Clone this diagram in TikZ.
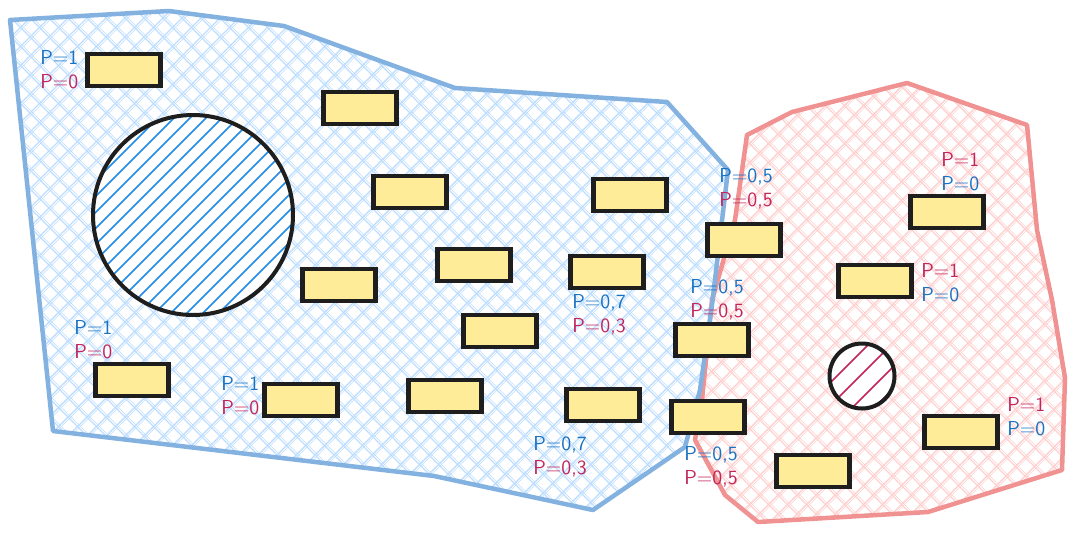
\documentclass[tikz,border=0pt]{standalone}
\usepackage{tikz,xcolor}
\definecolor{zoneblue}{RGB}{132,178,224}
\definecolor{hatchblue}{RGB}{190,222,255}
\definecolor{zonered}{RGB}{240,146,146}
\definecolor{hatchred}{RGB}{255,208,208}
\definecolor{discblue}{RGB}{34,139,230}
\definecolor{cardyellow}{RGB}{255,236,153}
\definecolor{ink}{RGB}{30,30,30}
\definecolor{pblue}{RGB}{25,113,194}
\definecolor{pred}{RGB}{194,37,92}
\tikzset{
	blue zone/.style={insert path={(10,20) -- (169,11) -- (284,26) -- (455,88) -- (667,102) -- (728,170) -- (712,305) -- (700,390) -- (685,447) -- (593,510) -- (434,476) -- (53,431) -- cycle}},
	red zone/.style={insert path={(747,135) -- (792,112) -- (907,83) -- (1027,125) -- (1037,230) -- (1052,300) -- (1065,378) -- (1062,470) -- (928,512) -- (758,522) -- (725,495) -- (695,440) -- (702,400) -- (712,300) -- (735,220) -- cycle}},
	card/.style={draw=ink, line width=0.9mm, fill=cardyellow, minimum width=14.6mm, minimum height=6.4mm, inner sep=0pt},
	prob/.style={anchor=west, align=left, inner sep=0pt, font=\sffamily\fontsize{11.5}{13.5}\selectfont}
	}

\begin{document}
\begin{tikzpicture}[x=0.2mm, y=-0.2mm, font=\sffamily]
	\useasboundingbox (0,0) rectangle (1077,543);

	% red zone, cross hatched
	\begin{scope}
		\clip [red zone];
		\foreach \k in {760,779,...,1620} {
			\draw[hatchred, line width=0.28mm] (\k,0) -- ++(-600,600);
			\draw[hatchred, line width=0.12mm] (\k+3,0) -- ++(-600,600);
		}
		\foreach \k in {150,169,...,1010} {
			\draw[hatchred, line width=0.28mm] (\k,0) -- ++(600,600);
			\draw[hatchred, line width=0.12mm] (\k+3,0) -- ++(600,600);
		}
	\end{scope}

	% blue zone, cross hatched
	\begin{scope}
		\clip [blue zone];
		\foreach \k in {10,29,...,1260} {
			\draw[hatchblue, line width=0.28mm] (\k,0) -- ++(-600,600);
			\draw[hatchblue, line width=0.12mm] (\k+3,0) -- ++(-600,600);
		}
		\foreach \k in {-520,-501,...,740} {
			\draw[hatchblue, line width=0.28mm] (\k,0) -- ++(600,600);
			\draw[hatchblue, line width=0.12mm] (\k+3,0) -- ++(600,600);
		}
	\end{scope}

	% zone borders
	\draw[zonered, line width=0.9mm, line join=round] [red zone];
	\draw[zoneblue, line width=0.9mm, line join=round] [blue zone];

	% big disc
	\fill[white] (193,215) circle (100);
	\begin{scope}
		\clip (193,215) circle (100);
		\foreach \k in {100,116,...,620} {
			\draw[discblue, line width=0.3mm] (\k,0) -- ++(-600,600);
		}
	\end{scope}
	\draw[ink, line width=0.8mm] (193,215) circle (100);

	% small disc
	\fill[white] (862,376) circle (32.5);
	\begin{scope}
		\clip (862,376) circle (32.5);
		\foreach \k in {1213,1236,1260,1282} {
			\draw[pred, line width=0.3mm] (\k,0) -- ++(-600,600);
		}
	\end{scope}
	\draw[ink, line width=0.8mm] (862,376) circle (32.5);

	% cards
	\node[card] (card1) at (124,70) {};
	\node[card] (card2) at (360,108) {};
	\node[card] (card3) at (410,192) {};
	\node[card] (card4) at (630,195) {};
	\node[card] (card5) at (744,240) {};
	\node[card] (card6) at (947,212) {};
	\node[card] (card7) at (474,265) {};
	\node[card] (card8) at (339,285) {};
	\node[card] (card9) at (607,272) {};
	\node[card] (card10) at (875,281) {};
	\node[card] (card11) at (500,331) {};
	\node[card] (card12) at (712,340) {};
	\node[card] (card13) at (132,380) {};
	\node[card] (card14) at (301,400) {};
	\node[card] (card15) at (445,396) {};
	\node[card] (card16) at (603,405) {};
	\node[card] (card17) at (708,417) {};
	\node[card] (card18) at (813,471) {};
	\node[card] (card19) at (961,432) {};

	% probabilities
	\node[prob] (prob1) at (40,70) {\color{pblue}P=1\\\color{pred}P=0};
	\node[prob] (prob2) at (74,340) {\color{pblue}P=1\\\color{pred}P=0};
	\node[prob] (prob3) at (221,396) {\color{pblue}P=1\\\color{pred}P=0};
	\node[prob] (prob4) at (572,315) {\color{pblue}P=0,7\\\color{pred}P=0,3};
	\node[prob] (prob5) at (533,457) {\color{pblue}P=0,7\\\color{pred}P=0,3};
	\node[prob] (prob6) at (719,189) {\color{pblue}P=0,5\\\color{pred}P=0,5};
	\node[prob] (prob7) at (690,300) {\color{pblue}P=0,5\\\color{pred}P=0,5};
	\node[prob] (prob8) at (684,467) {\color{pblue}P=0,5\\\color{pred}P=0,5};
	\node[prob] (prob9) at (941,172) {\color{pred}P=1\\\color{pblue}P=0};
	\node[prob] (prob10) at (921,283) {\color{pred}P=1\\\color{pblue}P=0};
	\node[prob] (prob11) at (1007,417) {\color{pred}P=1\\\color{pblue}P=0};

\end{tikzpicture}
\end{document}
